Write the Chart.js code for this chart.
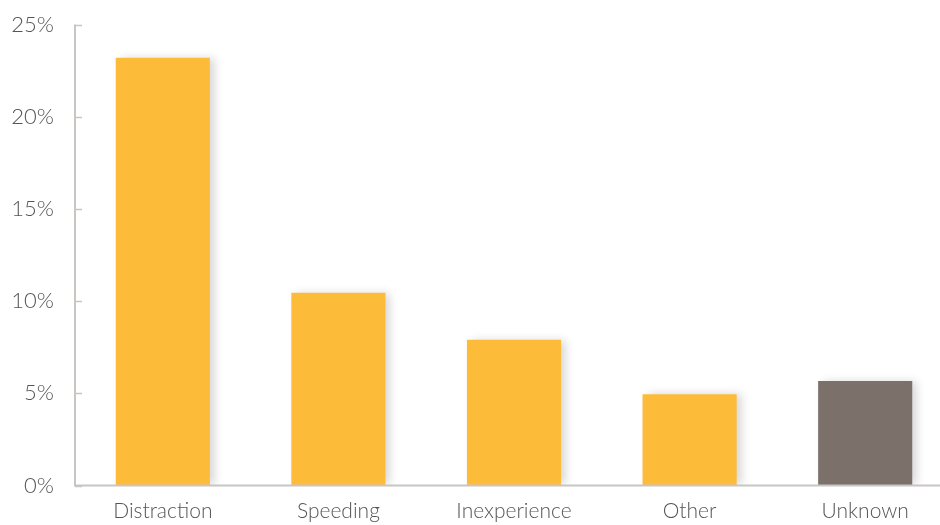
<!DOCTYPE html>
<html>
<head>
<meta charset="utf-8">
<script src="https://cdn.jsdelivr.net/npm/chart.js@4/dist/chart.umd.min.js"></script>
<style>
  html, body { margin: 0; padding: 0; background: #fff; overflow: hidden; }
  #wrap { width: 953px; height: 525px; }
</style>
</head>
<body>
<div id="wrap"><canvas id="c" width="953" height="525"></canvas></div>
<script>
const categories = ["Distraction", "Speeding", "Inexperience", "Other", "Unknown"];
const values = [23.2, 10.45, 7.9, 4.95, 5.67];
const barColors = ["#FDBB3A", "#FDBB3A", "#FDBB3A", "#FDBB3A", "#7C706B"];
const yTicks = [0, 5, 10, 15, 20, 25];

const axisColor = "#C9C5C3";
const textColor = "#555555";

const shadowPlugin = {
  id: "barShadow",
  beforeDatasetDraw(chart) {
    const ctx = chart.ctx;
    ctx.save();
    ctx.shadowColor = "rgba(0,0,0,0.16)";
    ctx.shadowBlur = 9;
    ctx.shadowOffsetX = 5;
    ctx.shadowOffsetY = 0;
  },
  afterDatasetDraw(chart) {
    chart.ctx.restore();
  }
};

const axisPlugin = {
  id: "axes",
  afterDraw(chart) {
    const ctx = chart.ctx;
    const y = chart.scales.y;
    const left = chart.chartArea.left;
    ctx.save();
    ctx.strokeStyle = axisColor;
    ctx.lineWidth = 2;
    ctx.beginPath();
    ctx.moveTo(left, y.getPixelForValue(yTicks[yTicks.length - 1]));
    ctx.lineTo(left, y.getPixelForValue(0));
    ctx.lineTo(chart.width, y.getPixelForValue(0));
    ctx.stroke();
    ctx.lineWidth = 1.5;
    yTicks.forEach(v => {
      const py = Math.round(y.getPixelForValue(v)) + 0.5;
      ctx.beginPath();
      ctx.moveTo(left, py);
      ctx.lineTo(left + 7, py);
      ctx.stroke();
    });
    ctx.restore();
  }
};

new Chart(document.getElementById("c"), {
  type: "bar",
  data: {
    labels: categories,
    datasets: [{
      data: values,
      backgroundColor: barColors,
      borderWidth: 0,
      categoryPercentage: 1.0,
      barPercentage: 0.536
    }]
  },
  options: {
    responsive: false,
    animation: false,
    layout: { padding: { top: 24.5, right: 0, left: 0, bottom: 0 } },
    plugins: { legend: { display: false }, tooltip: { enabled: false } },
    scales: {
      x: {
        grid: { display: false, drawTicks: false },
        border: { display: false },
        ticks: {
          color: textColor,
          font: { family: "Lato", size: 21, weight: "300" },
          padding: 13,
          maxRotation: 0
        },
        afterFit(scale) { scale.height = 39.5; }
      },
      y: {
        min: 0, max: 25,
        afterBuildTicks(scale) { scale.ticks = yTicks.map(v => ({ value: v })); },
        grid: {
          display: true,
          drawOnChartArea: false,
          drawTicks: true,
          tickLength: 21,
          color: "rgba(0,0,0,0)"
        },
        border: { display: false },
        ticks: {
          color: textColor,
          font: { family: "Lato", size: 22, weight: "300" },
          padding: 0,
          callback: v => v + "%"
        },
        afterFit(scale) { scale.width = 75; }
      }
    }
  },
  plugins: [shadowPlugin, axisPlugin]
});
</script>
</body>
</html>
